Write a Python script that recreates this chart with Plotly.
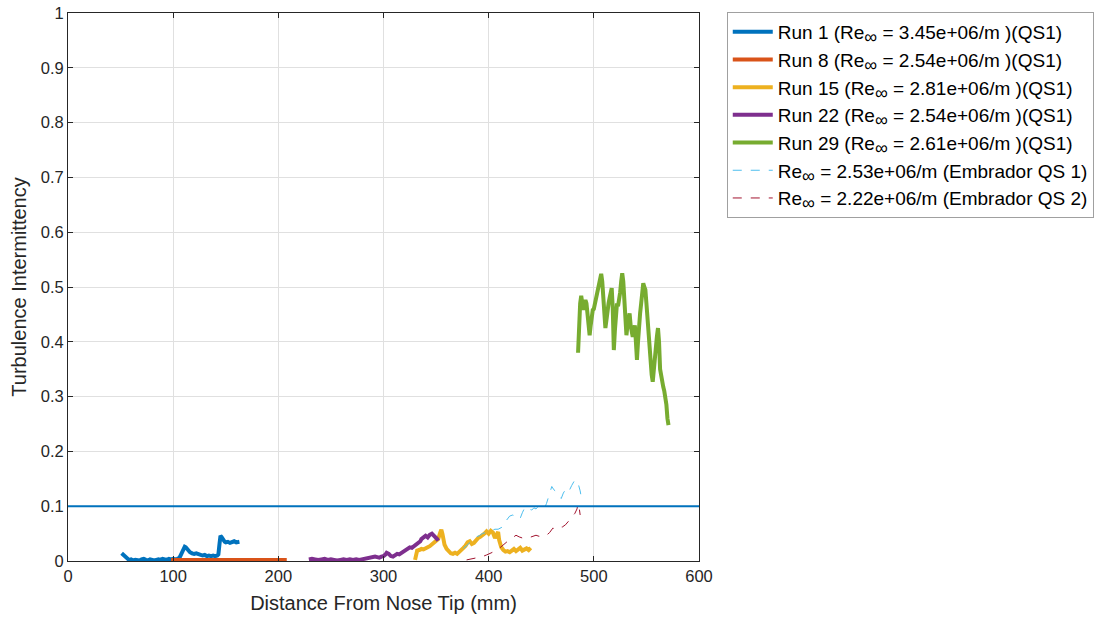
import plotly.graph_objects as go

# ---------------- data ----------------
run1 = [(51, 0.014), (52, 0.012), (53, 0.010), (54, 0.008), (55, 0.006), (56, 0.004), (57, 0.003), (58, 0.002),
        (60, 0.003), (62, 0.001), (64, 0.002), (66, 0.002), (68, 0.001), (70, 0.003), (72, 0.004), (74, 0.002),
        (76, 0.001), (78, 0.003), (80, 0.002), (82, 0.001), (84, 0.002), (86, 0.003), (88, 0.002), (90, 0.004),
        (92, 0.003), (94, 0.002), (96, 0.004), (98, 0.003), (100, 0.004), (102, 0.003), (104, 0.004),
        (106, 0.006), (107, 0.010), (108, 0.015), (109, 0.020), (110, 0.023), (111, 0.026), (112, 0.025),
        (113, 0.022), (114, 0.019), (116, 0.016), (118, 0.014), (120, 0.013), (122, 0.014), (124, 0.012),
        (126, 0.011), (128, 0.010), (130, 0.011), (132, 0.009), (134, 0.010), (136, 0.009), (138, 0.010),
        (140, 0.009), (142, 0.010), (143, 0.012), (144, 0.030), (145, 0.046), (146, 0.044), (147, 0.040),
        (148, 0.037), (149, 0.035), (150, 0.034), (152, 0.035), (154, 0.033), (156, 0.035), (158, 0.036),
        (160, 0.034), (162, 0.036), (163, 0.035)]

run8 = [(98, 0.002), (110, 0.002), (120, 0.002), (130, 0.002), (140, 0.002), (150, 0.002), (160, 0.002),
        (170, 0.002), (180, 0.002), (190, 0.002), (200, 0.002), (208, 0.002)]

run15 = [(330, 0.002), (331, 0.012), (332, 0.019), (334, 0.020), (336, 0.022), (338, 0.021), (340, 0.024),
         (342, 0.025), (344, 0.027), (346, 0.030), (348, 0.033), (350, 0.036), (352, 0.040), (354, 0.052),
         (355, 0.057), (356, 0.050), (357, 0.038), (358, 0.030), (360, 0.022), (362, 0.018), (364, 0.014),
         (366, 0.013), (368, 0.015), (370, 0.013), (372, 0.016), (374, 0.020), (376, 0.024), (378, 0.028),
         (380, 0.034), (382, 0.036), (384, 0.031), (386, 0.033), (388, 0.038), (390, 0.042), (392, 0.044),
         (394, 0.046), (396, 0.050), (398, 0.054), (400, 0.050), (402, 0.055), (404, 0.052), (406, 0.042),
         (408, 0.050), (409, 0.053), (410, 0.038), (411, 0.028), (412, 0.025), (414, 0.020), (416, 0.017),
         (418, 0.018), (420, 0.016), (422, 0.019), (424, 0.022), (426, 0.018), (428, 0.021), (430, 0.024),
         (432, 0.019), (434, 0.021), (436, 0.023), (438, 0.020), (440, 0.024)]

run22 = [(229, 0.003), (232, 0.004), (235, 0.003), (238, 0.002), (241, 0.003), (244, 0.004), (247, 0.002),
         (250, 0.003), (253, 0.002), (256, 0.001), (259, 0.002), (262, 0.003), (265, 0.002), (268, 0.003),
         (271, 0.002), (274, 0.003), (277, 0.002), (280, 0.003), (283, 0.004), (286, 0.006), (288, 0.007),
         (290, 0.006), (292, 0.008), (294, 0.007), (296, 0.006), (298, 0.008), (300, 0.009), (302, 0.012),
         (303, 0.015), (305, 0.013), (307, 0.009), (309, 0.008), (311, 0.011), (313, 0.013), (315, 0.012),
         (317, 0.015), (319, 0.016), (321, 0.019), (323, 0.022), (325, 0.025), (327, 0.024), (329, 0.027),
         (331, 0.030), (333, 0.033), (335, 0.036), (336, 0.040), (338, 0.044), (340, 0.046), (342, 0.043),
         (344, 0.048), (346, 0.050), (347, 0.047), (349, 0.044), (351, 0.040), (352, 0.037)]

run29 = [(485, 0.380), (486, 0.460), (487, 0.470), (488, 0.484), (489, 0.470), (490, 0.458), (491, 0.470),
         (492, 0.476), (493, 0.470), (494, 0.450), (495, 0.430), (496, 0.412), (497, 0.430), (498, 0.450),
         (499, 0.458), (500, 0.460), (501, 0.470), (502, 0.482), (503, 0.490), (504, 0.500), (505, 0.504),
         (506, 0.515), (507, 0.524), (508, 0.510), (509, 0.482), (510, 0.440), (511, 0.425), (512, 0.440),
         (513, 0.464), (514, 0.470), (515, 0.480), (516, 0.490), (517, 0.498), (518, 0.460), (519, 0.385),
         (520, 0.420), (521, 0.465), (522, 0.470), (523, 0.465), (524, 0.476), (525, 0.490), (526, 0.510),
         (527, 0.525), (528, 0.510), (529, 0.470), (530, 0.440), (531, 0.412), (532, 0.430), (533, 0.445),
         (534, 0.452), (535, 0.430), (536, 0.415), (537, 0.409), (538, 0.420), (539, 0.430), (540, 0.400),
         (541, 0.367), (542, 0.400), (543, 0.440), (544, 0.452), (545, 0.470), (546, 0.490), (547, 0.507),
         (548, 0.500), (549, 0.495), (550, 0.470), (551, 0.440), (552, 0.410), (553, 0.380), (554, 0.355),
         (555, 0.340), (556, 0.327), (557, 0.350), (558, 0.380), (559, 0.397), (560, 0.410), (561, 0.425),
         (562, 0.400), (563, 0.350), (564, 0.335), (565, 0.325), (566, 0.318), (567, 0.310), (568, 0.300),
         (569, 0.285), (570, 0.260), (571, 0.248)]

embrador_qs1 = [(376, 0.023), (379, 0.028), (382, 0.033), (385, 0.038), (388, 0.044), (391, 0.046), (394, 0.050),
                (397, 0.052), (400, 0.054), (403, 0.057), (406, 0.058), (409, 0.058), (412, 0.061), (414, 0.063),
                (416, 0.072), (418, 0.078), (420, 0.082), (423, 0.084), (426, 0.080), (428, 0.082), (430, 0.078),
                (432, 0.088), (434, 0.096), (436, 0.092), (438, 0.095), (441, 0.093), (443, 0.097), (445, 0.095),
                (447, 0.099), (450, 0.097), (453, 0.096), (455, 0.105), (457, 0.117), (458, 0.125), (460, 0.136),
                (462, 0.130), (464.6, 0.126), (467, 0.120), (469, 0.114), (471, 0.124), (474, 0.133), (476, 0.128),
                (477, 0.130), (479, 0.138), (482, 0.148), (484, 0.146), (485, 0.142), (487, 0.128), (488, 0.117)]

embrador_qs2 = [(379, 0.002), (384, 0.004), (389, 0.006), (394, 0.008), (398, 0.011), (402, 0.014), (406, 0.018),
                (410, 0.023), (413, 0.028), (415, 0.032), (418, 0.036), (421, 0.040), (424, 0.044), (426, 0.047),
                (429, 0.044), (432, 0.042), (436, 0.041), (440, 0.044), (443, 0.046), (445, 0.047), (448, 0.045),
                (451, 0.048), (455, 0.047), (458, 0.052), (461, 0.060), (464, 0.058), (467, 0.062), (470, 0.062),
                (473, 0.066), (475, 0.070), (477, 0.075), (479, 0.080), (482, 0.087), (484, 0.095), (485, 0.105),
                (486, 0.098), (487, 0.084)]

threshold = 0.1

INF = "<sub><span style='font-size:18px'>∞</span></sub>"
legend_names = [
    "Run 1 (Re" + INF + " = 3.45e+06/m )(QS1)",
    "Run 8 (Re" + INF + " = 2.54e+06/m )(QS1)",
    "Run 15 (Re" + INF + " = 2.81e+06/m )(QS1)",
    "Run 22 (Re" + INF + " = 2.54e+06/m )(QS1)",
    "Run 29 (Re" + INF + " = 2.61e+06/m )(QS1)",
    "Re" + INF + " = 2.53e+06/m (Embrador QS 1)",
    "Re" + INF + " = 2.22e+06/m (Embrador QS 2)",
]

x_ticks = [0, 100, 200, 300, 400, 500, 600]
y_ticks = [0, 0.1, 0.2, 0.3, 0.4, 0.5, 0.6, 0.7, 0.8, 0.9, 1]
y_tick_text = ["0", "0.1", "0.2", "0.3", "0.4", "0.5", "0.6", "0.7", "0.8", "0.9", "1"]

# ---------------- figure ----------------
series = [run1, run8, run15, run22, run29, embrador_qs1, embrador_qs2]
colors = ["#0072BD", "#D95319", "#EDB120", "#7E2F8E", "#77AC30", "#4DBEEE", "#A2142F"]
widths = [4, 4, 4, 4, 4, 1, 1]
dashes = ["solid"] * 5 + ["dash", "dash"]

FONT = "Liberation Sans, Arial, sans-serif"
TXT = "#262626"

fig = go.Figure()
for pts, name, c, w, d in zip(series, legend_names, colors, widths, dashes):
    fig.add_trace(go.Scatter(
        x=[p[0] for p in pts], y=[p[1] for p in pts], mode="lines", name=name,
        line=dict(color=c, width=w, dash=d)))

fig.add_hline(y=threshold, line=dict(color="#0072BD", width=2), layer="above")

axis_common = dict(
    showline=True, linecolor=TXT, linewidth=1, mirror="ticks",
    ticks="inside", ticklen=5, tickcolor=TXT, tickwidth=1,
    showgrid=True, gridcolor="#e0e0e0", gridwidth=1,
    zeroline=False, tickfont=dict(family=FONT, size=16.5, color=TXT),
)

fig.update_xaxes(range=[0, 600], tickvals=x_ticks,
                 title=dict(text="Distance From Nose Tip (mm)", font=dict(family=FONT, size=20, color=TXT),
                            standoff=12),
                 **axis_common)
fig.update_yaxes(range=[0, 1], tickvals=y_ticks, ticktext=y_tick_text,
                 title=dict(text="Turbulence Intermittency", font=dict(family=FONT, size=20, color=TXT),
                            standoff=8),
                 **axis_common)

fig.update_layout(
    width=1094, height=622,
    margin=dict(l=68, r=395, t=13, b=61, autoexpand=False),
    paper_bgcolor="white", plot_bgcolor="white",
    font=dict(family=FONT, color=TXT),
    showlegend=True,
    legend=dict(x=1.044, y=1.002, xanchor="left", yanchor="top",
                bgcolor="white", bordercolor="#a0a0a0", borderwidth=1,
                font=dict(family=FONT, size=19, color="#000000"),
                tracegroupgap=0, itemwidth=40),
)

fig.write_html("out.html")
